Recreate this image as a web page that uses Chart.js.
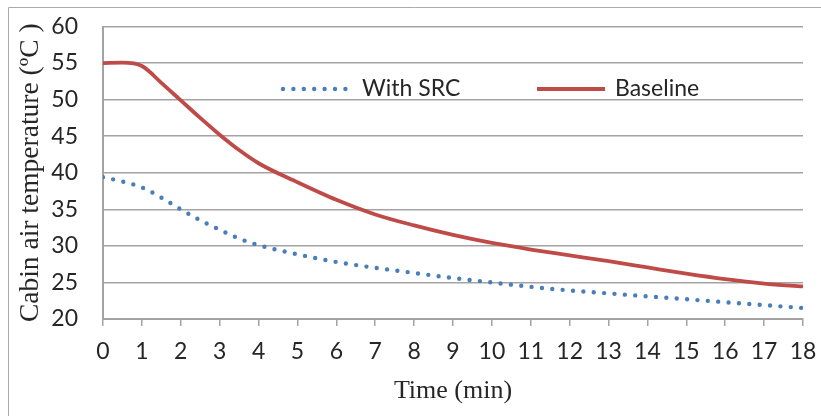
<!DOCTYPE html>
<html>
<head>
<meta charset="utf-8">
<script src="https://cdn.jsdelivr.net/npm/chart.js@4.4.1/dist/chart.umd.min.js"></script>
<style>
  html, body { margin: 0; padding: 0; background: #ffffff; }
  #wrap { width: 821px; height: 416px; position: relative; }
</style>
</head>
<body>
<div id="wrap"><canvas id="c" width="821" height="416"></canvas></div>
<script>
// Time (min) sample points
const baselineTime = [0, 0.5, 1, 1.5, 2, 2.5, 3, 3.5, 4, 5, 6, 7, 8, 9, 10, 11, 12, 13, 14, 15, 16, 17, 18];
const baselineTemp = [55.0, 55.05, 54.6, 52.3, 49.9, 47.5, 45.2, 43.1, 41.3, 38.7, 36.3, 34.3, 32.8, 31.5, 30.4, 29.5, 28.7, 27.9, 27.05, 26.2, 25.45, 24.85, 24.45];

const srcTime = [0, 0.5, 1, 1.5, 2, 2.5, 3, 3.5, 4, 5, 6, 7, 8, 9, 10, 11, 12, 13, 14, 15, 16, 17, 18];
const srcTemp = [39.4, 38.8, 38.0, 36.6, 35.0, 33.5, 32.2, 31.0, 30.1, 28.85, 27.8, 27.0, 26.3, 25.6, 25.0, 24.4, 23.9, 23.5, 23.1, 22.7, 22.3, 21.9, 21.5];

const seriesNames = ['With SRC', 'Baseline'];
const xTickValues = [0, 1, 2, 3, 4, 5, 6, 7, 8, 9, 10, 11, 12, 13, 14, 15, 16, 17, 18];
const yTickValues = [20, 25, 30, 35, 40, 45, 50, 55, 60];
const xTitle = 'Time (min)';
const yTitle = 'Cabin air temperature (ºC )';

const BLUE = '#4A7EBB';
const RED = '#BE4B48';
const GRID = '#A3A3A3';
const TEXT = '#262626';

const toPoints = (xs, ys) => xs.map((x, i) => ({ x: x, y: ys[i] }));

const framePlugin = {
  id: 'frame',
  beforeDraw(chart) {
    const ctx = chart.ctx;
    ctx.save();
    ctx.fillStyle = '#ffffff';
    ctx.fillRect(0, 0, chart.width, chart.height);
    ctx.strokeStyle = '#ABABAB';
    ctx.lineWidth = 1;
    ctx.beginPath();
    ctx.moveTo(8.5, chart.height);
    ctx.lineTo(8.5, 7.5);
    ctx.lineTo(chart.width, 7.5);
    ctx.stroke();
    ctx.restore();
  }
};

const legendPlugin = {
  id: 'inLegend',
  afterDatasetsDraw(chart) {
    const ctx = chart.ctx;
    const area = chart.chartArea;
    const y = area.top + 62.5;
    const items = [
      { ds: chart.data.datasets[0], x0: area.left + 180, len: 69 },
      { ds: chart.data.datasets[1], x0: area.left + 434, len: 68 }
    ];
    ctx.save();
    items.forEach(it => {
      ctx.strokeStyle = it.ds.borderColor;
      ctx.lineWidth = it.ds.borderWidth;
      ctx.lineCap = it.ds.borderCapStyle || 'butt';
      ctx.setLineDash(it.ds.borderDash || []);
      ctx.beginPath();
      ctx.moveTo(it.x0, y);
      ctx.lineTo(it.x0 + it.len, y);
      ctx.stroke();
      ctx.setLineDash([]);
      ctx.fillStyle = TEXT;
      ctx.font = '23px Lato';
      ctx.textBaseline = 'middle';
      ctx.textAlign = 'left';
      ctx.fillText(it.ds.label, it.x0 + it.len + 10, y);
    });
    ctx.restore();
  }
};

new Chart(document.getElementById('c'), {
  type: 'line',
  data: {
    datasets: [
      {
        label: seriesNames[0],
        data: toPoints(srcTime, srcTemp),
        borderColor: BLUE,
        borderWidth: 4.4,
        borderDash: [0, 10.4],
        borderCapStyle: 'round',
        pointRadius: 0,
        cubicInterpolationMode: 'monotone',
        fill: false
      },
      {
        label: seriesNames[1],
        data: toPoints(baselineTime, baselineTemp),
        borderColor: RED,
        borderWidth: 3.8,
        borderCapStyle: 'butt',
        pointRadius: 0,
        cubicInterpolationMode: 'monotone',
        fill: false
      }
    ]
  },
  options: {
    responsive: false,
    animation: false,
    layout: { padding: { left: 0, right: 18, top: 26.5, bottom: 0 } },
    plugins: {
      legend: { display: false },
      tooltip: { enabled: false }
    },
    scales: {
      x: {
        type: 'linear',
        min: 0,
        max: 18,
        afterBuildTicks: (s) => { s.ticks = xTickValues.map(v => ({ value: v })); },
        afterFit: (s) => { s.height = 97; s.paddingLeft = 0; s.paddingRight = 0; },
        ticks: {
          color: TEXT,
          font: { family: 'Lato', size: 23 },
          padding: 12,
          maxRotation: 0,
          autoSkip: false
        },
        grid: {
          drawOnChartArea: false,
          drawTicks: true,
          tickLength: 7,
          color: GRID,
          lineWidth: 1.5
        },
        border: { display: true, color: GRID, width: 2 },
        title: {
          display: true,
          text: xTitle,
          color: TEXT,
          font: { family: 'Liberation Serif', size: 26 },
          padding: { top: 0, bottom: 9 }
        }
      },
      y: {
        type: 'linear',
        min: 20,
        max: 60,
        afterBuildTicks: (s) => { s.ticks = yTickValues.map(v => ({ value: v })); },
        afterFit: (s) => { s.width = 103; s.paddingTop = 0; s.paddingBottom = 0; },
        ticks: {
          color: TEXT,
          font: { family: 'Lato', size: 23 },
          padding: 25
        },
        grid: {
          drawOnChartArea: true,
          drawTicks: false,
          color: GRID,
          lineWidth: 1.5
        },
        border: { display: true, color: GRID, width: 2 },
        title: {
          display: true,
          text: yTitle,
          color: TEXT,
          font: { family: 'Liberation Serif', size: 27.5 },
          padding: { top: 14, bottom: 0 }
        }
      }
    }
  },
  plugins: [framePlugin, legendPlugin]
});
</script>
</body>
</html>
